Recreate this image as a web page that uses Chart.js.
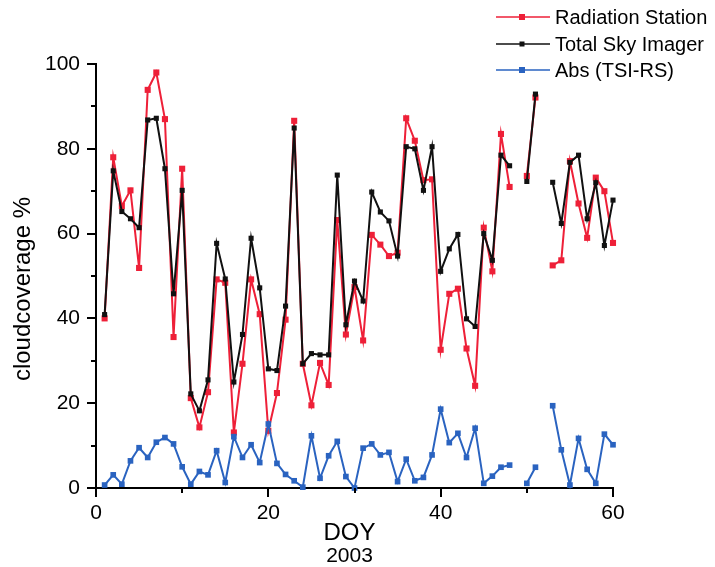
<!DOCTYPE html>
<html>
<head>
<meta charset="utf-8">
<script src="https://cdn.jsdelivr.net/npm/chart.js@4.4.1/dist/chart.umd.min.js"></script>
<style>
html,body{margin:0;padding:0;background:#ffffff;}
#wrap{width:715px;height:567px;position:relative;}
</style>
</head>
<body>
<div id="wrap"><canvas id="c" width="715" height="567"></canvas></div>
<script>
// ---- data ----
const days = [1,2,3,4,5,6,7,8,9,10,11,12,13,14,15,16,17,18,19,20,21,22,23,24,25,26,27,28,29,30,31,32,33,34,35,36,37,38,39,40,41,42,43,44,45,46,47,48,49,50,51,52,53,54,55,56,57,58,59,60];
const radiationStation = [40,78,66.5,70.2,51.9,93.9,98,87,35.6,75.3,21.2,14.3,22.6,49.2,48.4,13.1,29.3,49.2,41,13.5,22.4,39.7,86.6,29.3,19.5,29.5,24.3,63.2,36.2,47.4,34.8,59.7,57.4,54.7,55.5,87.2,81.9,72.6,72.8,32.6,45.8,47,32.9,24.1,61.4,51.1,83.5,71,null,73.6,92.1,null,52.5,53.7,77.1,67.1,59,73.2,70,57.8];
const totalSkyImager = [40.9,74.8,65.2,63.5,61.4,86.8,87.2,75.3,45.8,70.2,22.2,18.2,25.5,57.7,49.3,25,36.2,58.9,47.2,28.1,27.7,42.9,84.9,29.3,31.7,31.4,31.4,73.8,38.5,48.8,44.1,69.8,65.1,63,54.7,80.5,80,70.2,80.5,51.1,56.4,59.8,39.9,38.1,60,53.7,78.5,76,null,72.3,92.9,null,72.1,62.4,76.8,78.5,63.5,72,57.2,67.9];
const absDiff = [0.7,3.1,0.9,6.4,9.5,7.2,10.8,11.9,10.4,5,0.9,3.9,3.1,8.8,1.3,12.1,7.2,10.2,6,15.1,5.8,3.2,1.7,0.2,12.3,2.3,7.6,11,2.7,0,9.4,10.4,7.8,8.4,1.5,6.8,1.7,2.5,7.8,18.6,10.7,12.9,7.2,14.1,1.1,2.8,4.9,5.4,null,1.1,4.9,null,19.4,9,0.7,11.7,4.4,1.1,12.7,10.2];
const seriesNames = ['Radiation Station','Total Sky Imager','Abs (TSI-RS)'];
const xMajorTicks = [0,20,40,60];
const xMinorTicks = [10,30,50];
const yMajorTicks = [0,20,40,60,80,100];
const yMinorTicks = [10,30,50,70,90];
const xTitle = 'DOY';
const xSubTitle = '2003';
const yTitle = 'cloudcoverage %';

const RED = '#ee2038', BLACK = '#111111', BLUE = '#2a63c0';
const FONT = "'Liberation Sans', Arial, sans-serif";

function pts(arr){ return days.map((d,i)=>({x:d, y:arr[i]})); }

const decor = {
  id:'decor',
  afterDraw(chart){
    const ctx = chart.ctx, xs = chart.scales.x, ys = chart.scales.y;
    const ca = chart.chartArea;
    ctx.save();
    ctx.strokeStyle = '#000'; ctx.lineWidth = 2; ctx.lineCap='butt';
    // x tick marks
    for (const v of xMajorTicks){ const p = Math.round(xs.getPixelForValue(v)); ctx.beginPath(); ctx.moveTo(p, ca.bottom); ctx.lineTo(p, ca.bottom+9); ctx.stroke(); }
    for (const v of xMinorTicks){ const p = Math.round(xs.getPixelForValue(v)); ctx.beginPath(); ctx.moveTo(p, ca.bottom); ctx.lineTo(p, ca.bottom+5); ctx.stroke(); }
    // y tick marks
    for (const v of yMajorTicks){ const p = Math.round(ys.getPixelForValue(v)); ctx.beginPath(); ctx.moveTo(ca.left-9, p); ctx.lineTo(ca.left, p); ctx.stroke(); }
    for (const v of yMinorTicks){ const p = Math.round(ys.getPixelForValue(v)); ctx.beginPath(); ctx.moveTo(ca.left-5, p); ctx.lineTo(ca.left, p); ctx.stroke(); }
    // y title
    ctx.fillStyle = '#000';
    ctx.font = '24px ' + FONT;
    ctx.textAlign = 'center'; ctx.textBaseline = 'middle';
    ctx.save(); ctx.translate(23, 289); ctx.rotate(-Math.PI/2); ctx.fillText(yTitle, 0, 0); ctx.restore();
    // x titles
    const cx = (ca.left+ca.right)/2 - 5;
    ctx.font = '24px ' + FONT;
    ctx.fillText(xTitle, cx, 533);
    ctx.font = '21px ' + FONT;
    ctx.fillText(xSubTitle, cx, 556);
    // legend
    const cols = [RED, BLACK, BLUE];
    const sizes = [6, 5, 6];
    const rows = [17, 44, 70];
    ctx.font = '20px ' + FONT; ctx.textAlign='left';
    for (let i=0;i<3;i++){
      ctx.strokeStyle = cols[i]; ctx.lineWidth = 1.5;
      ctx.beginPath(); ctx.moveTo(496, rows[i]); ctx.lineTo(550, rows[i]); ctx.stroke();
      ctx.fillStyle = cols[i];
      ctx.fillRect(522 - sizes[i]/2, rows[i]-sizes[i]/2, sizes[i], sizes[i]);
      ctx.fillStyle = '#000';
      ctx.fillText(seriesNames[i], 555, rows[i]+1);
    }
    ctx.restore();
  }
};

new Chart(document.getElementById('c'), {
  type: 'line',
  data: {
    datasets: [
      {label: seriesNames[0], data: pts(radiationStation), borderColor: RED, backgroundColor: RED, borderWidth: 2, pointStyle: 'rect', pointRadius: 4.3, pointBorderWidth: 0, spanGaps: false, order: 3, clip: false, tension: 0},
      {label: seriesNames[1], data: pts(totalSkyImager), borderColor: BLACK, backgroundColor: BLACK, borderWidth: 2, pointStyle: 'rect', pointRadius: 3.6, pointBorderWidth: 0, spanGaps: false, order: 2, clip: false, tension: 0},
      {label: seriesNames[2], data: pts(absDiff), borderColor: BLUE, backgroundColor: BLUE, borderWidth: 2, pointStyle: 'rect', pointRadius: 4, pointBorderWidth: 0, spanGaps: false, order: 1, clip: false, tension: 0}
    ]
  },
  options: {
    responsive: false,
    animation: false,
    devicePixelRatio: 1,
    layout: {padding: {left: 0, top: 64, right: 102, bottom: 0}},
    plugins: {legend: {display: false}, tooltip: {enabled: false}},
    scales: {
      x: {
        type: 'linear', min: 0, max: 60,
        grid: {display: false, drawTicks: false},
        border: {display: true, color: '#000', width: 2},
        ticks: {stepSize: 20, padding: 13, color: '#000', font: {family: FONT, size: 21}, maxRotation: 0,
                callback: (v) => xMajorTicks.includes(v) ? String(v) : ''},
        afterFit: (s) => { s.height = 79; }
      },
      y: {
        min: 0, max: 100,
        grid: {display: false, drawTicks: false},
        border: {display: true, color: '#000', width: 2},
        ticks: {stepSize: 20, padding: 16, color: '#000', font: {family: FONT, size: 21},
                callback: (v) => yMajorTicks.includes(v) ? String(v) : ''},
        afterFit: (s) => { s.width = 96; }
      }
    }
  },
  plugins: [decor]
});
</script>
</body>
</html>
